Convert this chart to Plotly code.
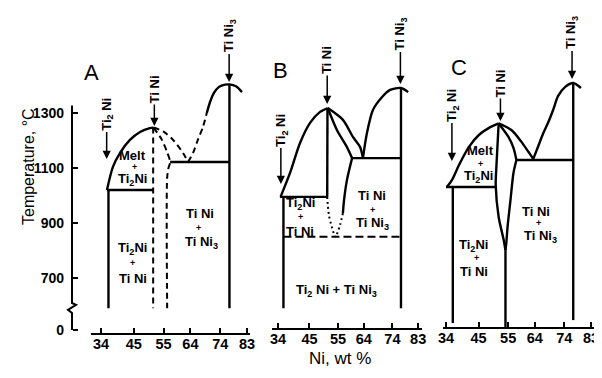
import plotly.graph_objects as go

FONT = "Liberation Sans, Arial, sans-serif"

# ---------------- axes ----------------
X_TICKS = [34, 45, 55, 64, 74, 83]
Y_TICKVALS = [511, 700, 900, 1100, 1300]
Y_TICKTEXT = ["0", "700", "900", "1100", "1300"]

# ---------------- panel A (Ni wt%, temperature C) ----------------
A_ti2ni_w = [36.5, 36.5]; A_ti2ni_t = [1020, 590]
A_eut1_w = [36.0, 51.5]; A_eut1_t = [1020, 1020]
A_liqL_w = [36.0, 38.0, 40.4, 43.7, 47.1, 50.4, 51.6]
A_liqL_t = [1020, 1104, 1155, 1202, 1231, 1245, 1247]
A_tini_w = [51.5, 51.5]; A_tini_t = [1247, 590]
A_solv_w = [51.6, 54.3, 56.1, 57.2, 56.6, 56.2, 56.2]
A_solv_t = [1247, 1205, 1160, 1122, 1098, 1065, 590]
A_eut2_w = [57.2, 77.1]; A_eut2_t = [1122, 1122]
A_outL_w = [51.6, 55.0, 58.2, 61.5, 63.2]
A_outL_t = [1247, 1232, 1202, 1155, 1122]
A_outR_w = [63.2, 64.9, 66.5, 68.2, 69.5]
A_outR_t = [1122, 1155, 1202, 1249, 1300]
A_liqR_w = [69.5, 70.6, 71.9, 73.6, 75.6, 77.1, 79.3, 81.3]
A_liqR_t = [1300, 1340, 1373, 1395, 1403, 1404, 1397, 1376]
A_tini3_w = [77.1, 77.1]; A_tini3_t = [1404, 590]

# ---------------- panel B ----------------
B_ti2ni_w = [35.9, 35.9]; B_ti2ni_t = [995, 590]
B_eut1_w = [34.7, 51.2]; B_eut1_t = [995, 995]
B_liqL_w = [34.9, 38.2, 41.7, 45.2, 48.7, 51.4]
B_liqL_t = [995, 1082, 1191, 1264, 1304, 1318]
B_tini_w = [51.3, 51.2]; B_tini_t = [1318, 995]
B_tinidot_w = [51.2, 51.8, 52.9, 53.9]; B_tinidot_t = [995, 929, 882, 850]
B_inner_w = [51.4, 54.6, 58.1, 59.9]; B_inner_t = [1318, 1238, 1176, 1136]
B_solv_w = [59.9, 58.1, 57.1, 56.7]; B_solv_t = [1136, 1056, 984, 936]
B_solvdot_w = [56.7, 55.7, 54.6, 53.9]; B_solvdot_t = [936, 893, 860, 850]
B_outer_w = [51.4, 56.7, 60.2, 62.7, 63.7]; B_outer_t = [1318, 1275, 1213, 1176, 1136]
B_eut2_w = [59.9, 77.0]; B_eut2_t = [1136, 1136]
B_liqR_w = [63.7, 65.1, 67.2, 70.4, 73.2, 77.0, 79.5]
B_liqR_t = [1136, 1227, 1311, 1358, 1384, 1391, 1376]
B_tini3_w = [77.0, 77.0]; B_tini3_t = [1391, 590]
B_eutd_w = [35.9, 77.0]; B_eutd_t = [850, 850]

# ---------------- panel C ----------------
C_ti2ni_w = [36.3, 36.3]; C_ti2ni_t = [1031, 536]
C_eut1_w = [34.0, 51.1]; C_eut1_t = [1031, 1031]
C_liqL_w = [34.3, 36.0, 38.4, 41.7, 45.1, 48.4, 51.8]
C_liqL_t = [1031, 1056, 1111, 1176, 1220, 1245, 1262]
C_vL_w = [51.8, 51.0, 50.8, 51.8, 53.5, 54.1]
C_vL_t = [1262, 1100, 1038, 922, 838, 800]
C_inner_w = [51.8, 55.1, 56.8, 57.8]; C_inner_t = [1262, 1213, 1173, 1129]
C_solv_w = [57.8, 56.8, 55.8, 54.8, 54.4, 54.1]
C_solv_t = [1129, 1082, 984, 885, 830, 800]
C_tini_w = [54.1, 54.1]; C_tini_t = [800, 522]
C_outer_w = [51.8, 56.1, 59.5, 61.9, 63.5]; C_outer_t = [1262, 1238, 1195, 1158, 1133]
C_eut2_w = [57.8, 77.0]; C_eut2_t = [1129, 1129]
C_liqR_w = [63.5, 65.2, 66.9, 68.6, 70.2, 71.9, 74.3, 77.0, 79.6]
C_liqR_t = [1133, 1180, 1227, 1267, 1311, 1362, 1395, 1409, 1391]
C_tini3_w = [77.0, 77.0]; C_tini3_t = [1409, 547]

# ---------------- compound markers (rotated label with arrow to the line top) ----------------
CMP_PANEL = ["A", "A", "A", "B", "B", "B", "C", "C", "C"]
CMP_TEXT = ["Ti<sub>2</sub> Ni", "Ti Ni", "Ti Ni<sub>3</sub>"] * 3
CMP_W = [35.9, 51.9, 77.0, 35.0, 51.2, 76.8, 36.0, 52.4, 76.6]
CMP_LABEL_T = [1296, 1387, 1580, 1238, 1493, 1587, 1329, 1409, 1591]
CMP_TIP_T = [1129, 1249, 1409, 1038, 1329, 1402, 1122, 1267, 1420]

# ---------------- region labels ----------------
REG_PANEL = ["A"] * 9 + ["B"] * 7 + ["C"] * 9
REG_TEXT = ["Melt", "+", "Ti<sub>2</sub>Ni",
            "Ti<sub>2</sub>Ni", "+", "Ti Ni",
            "Ti Ni", "+", "Ti Ni<sub>3</sub>",
            "Ti<sub>2</sub>Ni", "+", "Ti Ni",
            "Ti Ni", "+", "Ti Ni<sub>3</sub>",
            "Ti<sub>2</sub> Ni + Ti Ni<sub>3</sub>",
            "Melt", "+", "Ti<sub>2</sub>Ni",
            "Ti Ni", "+", "Ti Ni<sub>3</sub>",
            "Ti<sub>2</sub>Ni", "+", "Ti Ni"]
REG_W = [44.4, 45.4, 44.4, 44.4, 44.7, 44.7, 67.2, 66.6, 67.6,
         41.7, 41.7, 41.7, 66.9, 66.9, 67.2, 54.6,
         45.7, 45.7, 45.1, 64.5, 65.2, 65.9, 43.4, 44.4, 43.4]
REG_T = [1144, 1102, 1058, 808, 753, 698, 935, 882, 829,
         971, 922, 869, 1001, 947, 898, 656,
         1163, 1116, 1069, 942, 900, 850, 819, 773, 723]

PANEL_LETTERS = ["A", "B", "C"]
LETTER_W = [30.8, 35.0, 38.4]
LETTER_T = [1449, 1453, 1464]

AX = {"A": ("x", "y"), "B": ("x2", "y2"), "C": ("x3", "y3")}

# page body has an 8 px default margin: the figure is sized to fill the rest
OFF = 8
FW, FH = 602 - OFF, 378 - OFF
PLOT_H = 333 - OFF          # plot area height (bottom margin 45)
T_TOP = 500 + PLOT_H / 0.275


def px(x):
    return (x - OFF) / FW


fig = go.Figure()


def add_line(w, t, panel, dash="solid", width=2.4, curve=True):
    xa, ya = AX[panel]
    fig.add_trace(go.Scatter(
        x=w, y=t, mode="lines", xaxis=xa, yaxis=ya, hoverinfo="skip",
        line=dict(color="black", width=width, dash=dash,
                  shape="spline" if curve else "linear", smoothing=0.8)))


DASH = "6px,4px"
DOT = "2px,3px"

# panel A
add_line(A_ti2ni_w, A_ti2ni_t, "A", curve=False)
add_line(A_eut1_w, A_eut1_t, "A", curve=False)
add_line(A_liqL_w, A_liqL_t, "A")
add_line(A_tini_w, A_tini_t, "A", dash=DASH, width=2, curve=False)
add_line(A_solv_w, A_solv_t, "A", dash=DASH, width=2)
add_line(A_eut2_w, A_eut2_t, "A", curve=False)
add_line(A_outL_w, A_outL_t, "A", dash=DASH, width=2)
add_line(A_outR_w, A_outR_t, "A", dash=DASH, width=2)
add_line(A_liqR_w, A_liqR_t, "A")
add_line(A_tini3_w, A_tini3_t, "A", curve=False)

# panel B
add_line(B_ti2ni_w, B_ti2ni_t, "B", curve=False)
add_line(B_eut1_w, B_eut1_t, "B", curve=False)
add_line(B_liqL_w, B_liqL_t, "B")
add_line(B_tini_w, B_tini_t, "B", curve=False)
add_line(B_tinidot_w, B_tinidot_t, "B", dash=DOT, width=2)
add_line(B_inner_w, B_inner_t, "B")
add_line(B_solv_w, B_solv_t, "B")
add_line(B_solvdot_w, B_solvdot_t, "B", dash=DOT, width=2)
add_line(B_outer_w, B_outer_t, "B")
add_line(B_eut2_w, B_eut2_t, "B", curve=False)
add_line(B_liqR_w, B_liqR_t, "B")
add_line(B_tini3_w, B_tini3_t, "B", curve=False)
add_line(B_eutd_w, B_eutd_t, "B", dash="8px,4px", width=1.8, curve=False)

# panel C
add_line(C_ti2ni_w, C_ti2ni_t, "C", curve=False)
add_line(C_eut1_w, C_eut1_t, "C", curve=False)
add_line(C_liqL_w, C_liqL_t, "C")
add_line(C_vL_w, C_vL_t, "C")
add_line(C_inner_w, C_inner_t, "C")
add_line(C_solv_w, C_solv_t, "C")
add_line(C_tini_w, C_tini_t, "C", curve=False)
add_line(C_outer_w, C_outer_t, "C")
add_line(C_eut2_w, C_eut2_t, "C", curve=False)
add_line(C_liqR_w, C_liqR_t, "C")
add_line(C_tini3_w, C_tini3_t, "C", curve=False)

ann = []
# compound labels with arrows: text box sits at the tail, arrow ends at the tip
for p, txt, w, lt, tip in zip(CMP_PANEL, CMP_TEXT, CMP_W, CMP_LABEL_T, CMP_TIP_T):
    xa, ya = AX[p]
    ann.append(dict(x=w, y=tip, ax=w, ay=lt, xref=xa, yref=ya, axref=xa, ayref=ya,
                    text=txt, textangle=-90, showarrow=True, arrowhead=2, arrowsize=1.1,
                    arrowwidth=1.5, arrowcolor="black", standoff=1, startstandoff=0,
                    font=dict(family=FONT, size=13, color="black", weight="bold")))

for p, txt, w, t in zip(REG_PANEL, REG_TEXT, REG_W, REG_T):
    xa, ya = AX[p]
    ann.append(dict(x=w, y=t, xref=xa, yref=ya, text=txt, showarrow=False,
                    font=dict(family=FONT, size=9 if txt == "+" else 13, color="black",
                              weight="bold")))

for p, w, t in zip(PANEL_LETTERS, LETTER_W, LETTER_T):
    xa, ya = AX[p]
    ann.append(dict(x=w, y=t, xref=xa, yref=ya, text=p, showarrow=False,
                    font=dict(family=FONT, size=22, color="black")))

ann.append(dict(x=px(340), y=-(370 - 333) / PLOT_H, xref="paper", yref="paper", text="Ni, wt %",
                showarrow=False, font=dict(family=FONT, size=17, color="black")))
ann.append(dict(x=px(18), y=(333 - 227) / PLOT_H, xref="paper", yref="paper",
                text="Temperature, °C", textangle=-90, showarrow=False,
                font=dict(family=FONT, size=16, color="black")))

YPOS = px(72)
# broken y-axis line
shapes = [dict(type="path", xref="paper", yref="y",
               path=f"M {YPOS},1327 L {YPOS},609 L {YPOS + 4/FW},602 L {YPOS - 4/FW},584 "
                    f"L {YPOS},573 L {YPOS},511",
               line=dict(color="black", width=2))]

xcommon = dict(showline=True, linecolor="black", linewidth=2, ticks="inside", ticklen=5,
               tickwidth=1.5, tickcolor="black", tickvals=X_TICKS, showgrid=False, zeroline=False,
               automargin=False, ticklabelstandoff=-3,
               tickfont=dict(family=FONT, size=14.5, color="black", weight="bold"), fixedrange=True)

fig.update_layout(
    width=FW, height=FH,
    margin=dict(l=0, r=0, t=0, b=45, autoexpand=False),
    paper_bgcolor="white", plot_bgcolor="white",
    showlegend=False,
    xaxis=dict(domain=[px(91), px(250)], range=[30.64, 84.0], anchor="y", **xcommon),
    xaxis2=dict(domain=[px(272), px(422)], range=[31.9, 84.35], anchor="y2", **xcommon),
    xaxis3=dict(domain=[px(443), px(597)], range=[32.99, 85.03], anchor="y3", **xcommon),
    yaxis=dict(domain=[0, 1], range=[500, T_TOP], anchor="free", position=YPOS, side="left",
               showline=False, ticks="inside", ticklen=5, tickwidth=1.5, tickcolor="black",
               tickvals=Y_TICKVALS, ticktext=Y_TICKTEXT, ticklabelstandoff=8, automargin=False,
               showgrid=False, zeroline=False, fixedrange=True,
               tickfont=dict(family=FONT, size=14, color="black", weight="bold")),
    yaxis2=dict(domain=[5 / PLOT_H, 1], range=[500 + 5 / 0.275, T_TOP], visible=False,
                fixedrange=True, automargin=False),
    yaxis3=dict(domain=[6 / PLOT_H, 1], range=[500 + 6 / 0.275, T_TOP], visible=False,
                fixedrange=True, automargin=False),
    annotations=ann,
    shapes=shapes,
)

fig.write_html("out.html")
